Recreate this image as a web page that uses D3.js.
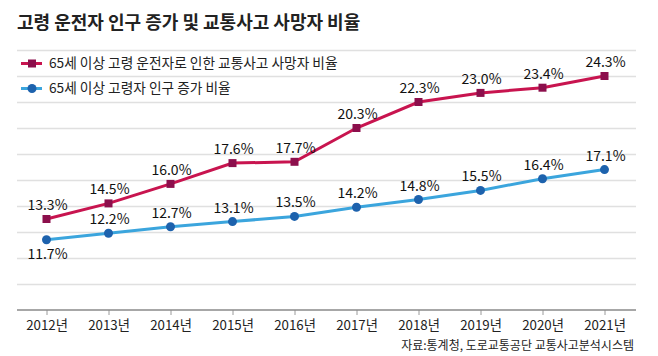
<!DOCTYPE html>
<html><head><meta charset="utf-8">
<script src="https://cdn.jsdelivr.net/npm/d3@7"></script>
<style>
html,body{margin:0;padding:0;background:#fff;}
svg{display:block;font-family:"Noto Sans CJK KR","Noto Sans",sans-serif;}
</style></head>
<body>
<svg id="c" width="658" height="356"></svg>
<script>
const years = ["2012년","2013년","2014년","2015년","2016년","2017년","2018년","2019년","2020년","2021년"];
const deathRate = [13.3,14.5,16.0,17.6,17.7,20.3,22.3,23.0,23.4,24.3];
const popRate = [11.7,12.2,12.7,13.1,13.5,14.2,14.8,15.5,16.4,17.1];
const seriesNames = ["65세 이상 고령 운전자로 인한 교통사고 사망자 비율","65세 이상 고령자 인구 증가 비율"];
const title = "고령 운전자 인구 증가 및 교통사고 사망자 비율";
const source = "자료:통계청, 도로교통공단 교통사고분석시스템";
const yDomain = [6.3, 26.3];
const gridStep = 2;

const svg = d3.select("#c");
const x = d3.scalePoint().domain(years).range([46.5, 604.5]);
const y = d3.scaleLinear().domain(yDomain).range([310, 50]);

const red = "#c8144f", redMark = "#8c0f4c";
const blue = "#3ba5dd", blueMark = "#1d62ad";

// gridlines
const gridVals = d3.range(yDomain[0] + gridStep, yDomain[1] + 0.001, gridStep);
svg.append("g").selectAll("line").data(gridVals).join("line")
  .attr("x1", 17).attr("x2", 636)
  .attr("y1", d => Math.round(y(d)) + 0.5).attr("y2", d => Math.round(y(d)) + 0.5)
  .attr("stroke", "#e0e0e0").attr("stroke-width", 1.5);

// x axis
const xAxis = d3.axisBottom(x).tickSize(5).tickSizeOuter(0).tickPadding(6);
const gx = svg.append("g").attr("transform", `translate(0,${y(yDomain[0])})`).call(xAxis);
gx.select(".domain").remove();
gx.append("line").attr("x1", 17).attr("x2", 636).attr("stroke", "#8a8a8a").attr("stroke-width", 1.5);
gx.selectAll(".tick line").attr("stroke", "#9a9a9a");
gx.selectAll(".tick text").attr("fill", "#222").attr("font-size", 13.3)
  .attr("font-family", '"Noto Sans CJK KR",sans-serif');

// title
svg.append("text").attr("x", 17).attr("y", 29).text(title)
  .attr("font-size", 18).attr("font-weight", 700).attr("fill", "#222");

// legend
const legend = [
  {name: seriesNames[0], line: red, mark: redMark, shape: "square"},
  {name: seriesNames[1], line: blue, mark: blueMark, shape: "circle"}
];
const lg = svg.append("g");
legend.forEach((d, i) => {
  const cy = 63.5 + i * 25;
  lg.append("line").attr("x1", 21).attr("x2", 42).attr("y1", cy).attr("y2", cy)
    .attr("stroke", d.line).attr("stroke-width", 3);
  if (d.shape === "square") {
    lg.append("rect").attr("x", 28).attr("y", cy - 4).attr("width", 8).attr("height", 8).attr("fill", d.mark);
  } else {
    lg.append("circle").attr("cx", 32).attr("cy", cy).attr("r", 4.5).attr("fill", d.mark);
  }
  lg.append("text").attr("x", 49).attr("y", cy + 4.8).text(d.name)
    .attr("font-size", 13.7).attr("fill", "#222");
});

const line = d3.line().x((d, i) => x(years[i])).y(d => y(d));

// red series
svg.append("path").datum(deathRate).attr("d", line).attr("fill", "none")
  .attr("stroke", red).attr("stroke-width", 3);
svg.append("g").selectAll("rect").data(deathRate).join("rect")
  .attr("x", (d, i) => x(years[i]) - 4).attr("y", d => y(d) - 4)
  .attr("width", 8).attr("height", 8).attr("fill", redMark);
svg.append("g").selectAll("text").data(deathRate).join("text")
  .attr("x", (d, i) => x(years[i]) + 1).attr("y", d => y(d) - 9)
  .attr("text-anchor", "middle").attr("font-size", 14).attr("fill", "#111")
  .text(d => d.toFixed(1) + "%");

// blue series
svg.append("path").datum(popRate).attr("d", line).attr("fill", "none")
  .attr("stroke", blue).attr("stroke-width", 3);
svg.append("g").selectAll("circle").data(popRate).join("circle")
  .attr("cx", (d, i) => x(years[i])).attr("cy", d => y(d)).attr("r", 4.5).attr("fill", blueMark);
svg.append("g").selectAll("text").data(popRate).join("text")
  .attr("x", (d, i) => x(years[i]) + 1).attr("y", (d, i) => i === 0 ? y(d) + 19 : y(d) - 9)
  .attr("text-anchor", "middle").attr("font-size", 14).attr("fill", "#111")
  .text(d => d.toFixed(1) + "%");

// source
svg.append("text").attr("x", 634).attr("y", 350).attr("text-anchor", "end")
  .attr("font-size", 12).attr("fill", "#222").text(source);
</script>
</body></html>
